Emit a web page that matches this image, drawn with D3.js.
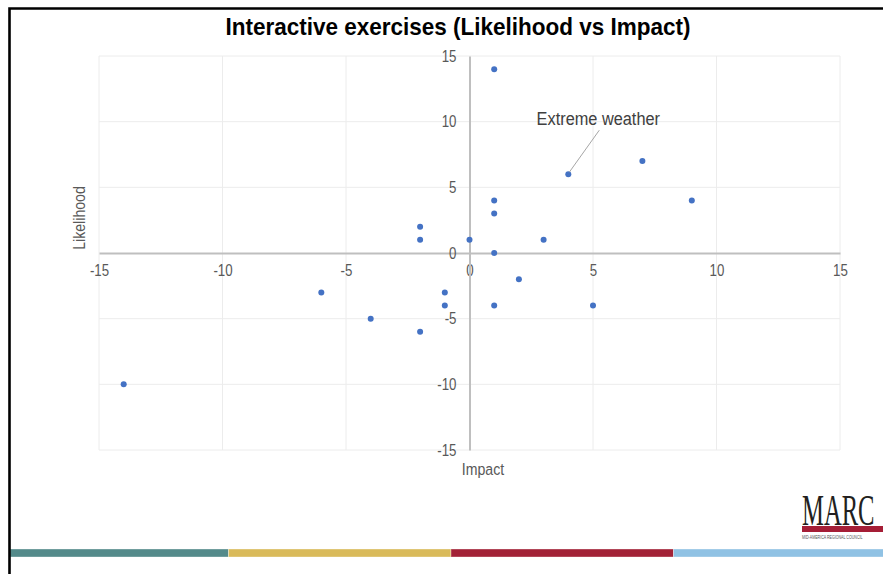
<!DOCTYPE html>
<html>
<head>
<meta charset="utf-8">
<script src="https://cdn.jsdelivr.net/npm/d3@7"></script>
<style>
  html, body { margin: 0; padding: 0; background: #fff; }
  svg { display: block; }
</style>
</head>
<body>
<svg id="chart" width="883" height="574"></svg>
<script>
// Risk survey responses: each point is one item scored for impact and likelihood
const impact     = [1, -2, -2, 0, 1, 1, 1, 3, 4, 7, 9, 2, 5, 1, -1, -1, -2, -4, -6, -14];
const likelihood = [14, 2, 1, 1, 4, 3, 0, 1, 6, 7, 4, -2, -4, -4, -3, -4, -6, -5, -3, -10];
const pointLabels = ["", "", "", "", "", "", "", "", "Extreme weather", "", "", "", "", "", "", "", "", "", "", ""];

const xTicks = [-15, -10, -5, 0, 5, 10, 15];
const yTicks = [-15, -10, -5, 0, 5, 10, 15];

const titleText = "Interactive exercises (Likelihood vs Impact)";
const xTitle = "Impact";
const yTitle = "Likelihood";

// Footer band colours
const bandColors = ["#548a8a", "#d9ba5a", "#a22237", "#90c2e4"];

const svg = d3.select("#chart");
const FONT = "'Liberation Sans', Arial, sans-serif";
const SQUEEZE = 0.83;
const plainNumber = d => String(d);

const x = d3.scaleLinear().domain([-15, 15]).range([99, 840]);
const y = d3.scaleLinear().domain([-15, 15]).range([450, 56]);

// Title
svg.append("text")
  .attr("x", 458).attr("y", 35)
  .attr("text-anchor", "middle")
  .attr("font-family", FONT).attr("font-weight", "bold").attr("font-size", 24)
  .attr("textLength", 465).attr("lengthAdjust", "spacingAndGlyphs")
  .attr("fill", "#000")
  .text(titleText);

// Gridlines
const grid = svg.append("g");
grid.selectAll("line.vx").data(xTicks.filter(d => d !== 0)).join("line")
  .attr("x1", d => x(d)).attr("x2", d => x(d))
  .attr("y1", y(15)).attr("y2", y(-15))
  .attr("stroke", "#ececec").attr("stroke-width", 1);
grid.selectAll("line.hy").data(yTicks.filter(d => d !== 0)).join("line")
  .attr("y1", d => y(d)).attr("y2", d => y(d))
  .attr("x1", x(-15)).attr("x2", x(15))
  .attr("stroke", "#ececec").attr("stroke-width", 1);

// Axes crossing at the origin
const xAxis = svg.append("g")
  .attr("transform", `translate(0,${y(0)})`)
  .call(d3.axisBottom(x).tickValues(xTicks).tickFormat(plainNumber).tickSize(0).tickPadding(12));
const yAxis = svg.append("g")
  .attr("transform", `translate(${x(0)},0)`)
  .call(d3.axisLeft(y).tickValues(yTicks).tickFormat(plainNumber).tickSize(0).tickPadding(13));

[xAxis, yAxis].forEach(g => {
  g.select(".domain").attr("stroke", "#bfbfbf").attr("stroke-width", 2);
  g.selectAll("text")
    .attr("font-family", FONT).attr("font-size", 16)
    .attr("fill", "#595959");
});
xAxis.selectAll("text").attr("transform", `scale(${SQUEEZE},1)`);
yAxis.selectAll("text")
  .attr("x", -13 / SQUEEZE)
  .attr("transform", `scale(${SQUEEZE},1)`);

// Axis titles
svg.append("text")
  .attr("transform", `translate(483,475) scale(${SQUEEZE},1)`)
  .attr("text-anchor", "middle")
  .attr("font-family", FONT).attr("font-size", 17).attr("fill", "#595959")
  .text(xTitle);
svg.append("text")
  .attr("transform", `translate(85,218) rotate(-90) scale(${SQUEEZE},1)`)
  .attr("text-anchor", "middle")
  .attr("font-family", FONT).attr("font-size", 17).attr("fill", "#595959")
  .text(yTitle);

// Points
const pts = impact.map((v, i) => ({ impact: v, likelihood: likelihood[i], label: pointLabels[i] }));
svg.append("g").selectAll("circle").data(pts).join("circle")
  .attr("cx", d => x(d.impact)).attr("cy", d => y(d.likelihood))
  .attr("r", 3).attr("fill", "#4472c4");

// Data label with leader line
const labelled = pts.filter(d => d.label);
const lab = svg.append("g").selectAll("g").data(labelled).join("g");
lab.append("line")
  .attr("x1", d => x(d.impact) + 1).attr("y1", d => y(d.likelihood) - 2)
  .attr("x2", d => x(d.impact) + 31).attr("y2", d => y(d.likelihood) - 44)
  .attr("stroke", "#a6a6a6").attr("stroke-width", 1);
lab.append("text")
  .attr("transform", d => `translate(${x(d.impact) + 30},${y(d.likelihood) - 49}) scale(0.86,1)`)
  .attr("text-anchor", "middle")
  .attr("font-family", FONT).attr("font-size", 19).attr("fill", "#404040")
  .text(d => d.label);

// Footer colour band (equal segments, last one runs off the right edge)
const bandX = d3.scaleLinear().domain([0, bandColors.length]).range([6, 896]);
svg.append("g").selectAll("rect").data(bandColors).join("rect")
  .attr("x", (d, i) => Math.max(10, bandX(i)))
  .attr("width", (d, i) => bandX(i + 1) - Math.max(10, bandX(i)))
  .attr("y", 549).attr("height", 8)
  .attr("fill", d => d)
  .attr("stroke", "#ffffff").attr("stroke-opacity", 0.35).attr("stroke-width", 1);

// Slide frame (top and left rules)
svg.append("path")
  .attr("d", "M9.5,574 V8.5 H883")
  .attr("fill", "none").attr("stroke", "#000").attr("stroke-width", 2.6);

// Logo
const logo = svg.append("g");
logo.append("text")
  .attr("transform", "translate(802,525) scale(0.56,1)")
  .attr("font-family", "'Liberation Serif', 'Times New Roman', serif")
  .attr("font-size", 44).attr("fill", "#231f20")
  .text("MARC");
logo.append("rect")
  .attr("x", 802).attr("y", 526).attr("width", 81).attr("height", 6)
  .attr("fill", "#a51e36");
logo.append("text")
  .attr("transform", "translate(802,539) scale(0.72,1)")
  .attr("font-family", FONT).attr("font-size", 5).attr("fill", "#555")
  .text("MID-AMERICA REGIONAL COUNCIL");
</script>
</body>
</html>
